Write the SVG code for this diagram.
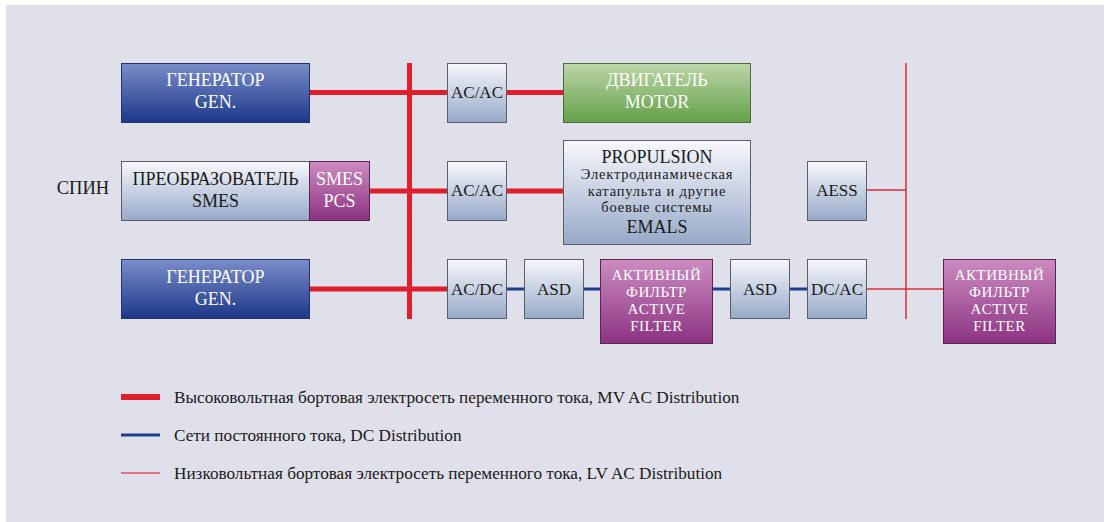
<svg xmlns="http://www.w3.org/2000/svg" width="1104" height="522" viewBox="0 0 1104 522">
<defs>
<linearGradient id="gBlue" x1="0" y1="0" x2="0" y2="1"><stop offset="0" stop-color="#7a8dca"/><stop offset="1" stop-color="#1d3788"/></linearGradient>
<linearGradient id="gLight" x1="0" y1="0" x2="0" y2="1"><stop offset="0" stop-color="#f7f8fc"/><stop offset="1" stop-color="#97a9c8"/></linearGradient>
<linearGradient id="gGreen" x1="0" y1="0" x2="0" y2="1"><stop offset="0" stop-color="#bcd6a8"/><stop offset="1" stop-color="#63a048"/></linearGradient>
<linearGradient id="gPurple" x1="0" y1="0" x2="0" y2="1"><stop offset="0" stop-color="#cc8cc0"/><stop offset="1" stop-color="#8c3282"/></linearGradient>
</defs>
<style>
.bg{fill:#e0e0ea}
.blue{fill:url(#gBlue);stroke:#26336a;stroke-width:1}
.light{fill:url(#gLight);stroke:#5a5e6a;stroke-width:1}
.green{fill:url(#gGreen);stroke:#4c6a40;stroke-width:1}
.purple{fill:url(#gPurple);stroke:#5a2452;stroke-width:1}
text{font-family:"Liberation Serif","Times New Roman",serif;text-anchor:middle}
.w{fill:#ffffff;font-size:18px}
.d{fill:#1a1a1a;font-size:18px}
.c{fill:#1a1a1a;font-size:17px}
.ws{fill:#ffffff;font-size:15px;letter-spacing:0.5px}
.ds{fill:#1a1a1a;font-size:14.5px;letter-spacing:0.8px}
.leg{fill:#1a1a1a;font-size:17.2px;text-anchor:start}
.mv{stroke:#e01f2d;stroke-width:5;fill:none}
.dc{stroke:#1c3f8e;stroke-width:3;fill:none}
.lv{stroke:#e02a3a;stroke-width:1.5;fill:none}
</style>
<rect class="bg" x="6" y="5" width="1098" height="517"/>
<g id="connectors">
<line class="mv" x1="409.5" y1="63" x2="409.5" y2="319"/>
<line class="mv" x1="310" y1="92.5" x2="447" y2="92.5"/>
<line class="mv" x1="507" y1="92.5" x2="563" y2="92.5"/>
<line class="mv" x1="370" y1="191" x2="447" y2="191"/>
<line class="mv" x1="507" y1="191" x2="563" y2="191"/>
<line class="mv" x1="310" y1="289" x2="447" y2="289"/>
<line class="dc" x1="507" y1="289" x2="524" y2="289"/>
<line class="dc" x1="584" y1="289" x2="600" y2="289"/>
<line class="dc" x1="713" y1="289" x2="730" y2="289"/>
<line class="dc" x1="790" y1="289" x2="807" y2="289"/>
<line class="lv" x1="906" y1="63" x2="906" y2="319"/>
<line class="lv" x1="867" y1="190" x2="906" y2="190"/>
<line class="lv" x1="867" y1="289" x2="943" y2="289"/>
</g>
<g id="gen1"><rect class="blue" x="121.5" y="63.5" width="188" height="59"/><text class="w" x="215.5" y="86">ГЕНЕРАТОР</text><text class="w" x="215.5" y="108">GEN.</text></g>
<g id="acac1"><rect class="light" x="447.5" y="63.5" width="59" height="59"/><text class="c" x="477" y="98">AC/AC</text></g>
<g id="motor"><rect class="green" x="563.5" y="63.5" width="187" height="59"/><text class="w" x="657" y="86">ДВИГАТЕЛЬ</text><text class="w" x="657" y="108">MOTOR</text></g>
<g id="spin"><text class="d" x="83" y="194" style="font-size:18.5px">СПИН</text></g>
<g id="smes"><rect class="light" x="121.5" y="161.5" width="188" height="59"/><text class="d" x="215.5" y="185">ПРЕОБРАЗОВАТЕЛЬ</text><text class="d" x="215.5" y="207">SMES</text></g>
<g id="smespcs"><rect class="purple" x="309.5" y="161.5" width="60" height="59"/><text class="w" x="339.5" y="185">SMES</text><text class="w" x="339.5" y="207">PCS</text></g>
<g id="acac2"><rect class="light" x="447.5" y="161.5" width="59" height="59"/><text class="c" x="477" y="196">AC/AC</text></g>
<g id="propulsion"><rect class="light" x="563.5" y="140.5" width="187" height="104"/><text class="d" x="657" y="163">PROPULSION</text><text class="ds" x="657" y="179">Электродинамическая</text><text class="ds" x="657" y="195.5">катапульта и другие</text><text class="ds" x="657" y="211.5">боевые системы</text><text class="d" x="657" y="233">EMALS</text></g>
<g id="aess"><rect class="light" x="807.5" y="161.5" width="59" height="59"/><text class="c" x="837" y="196">AESS</text></g>
<g id="gen2"><rect class="blue" x="121.5" y="259.5" width="188" height="59"/><text class="w" x="215.5" y="283">ГЕНЕРАТОР</text><text class="w" x="215.5" y="305">GEN.</text></g>
<g id="acdc"><rect class="light" x="447.5" y="259.5" width="59" height="59"/><text class="c" x="477" y="295">AC/DC</text></g>
<g id="asd1"><rect class="light" x="524.5" y="259.5" width="59" height="59"/><text class="c" x="554" y="295">ASD</text></g>
<g id="filter1"><rect class="purple" x="600.5" y="259.5" width="112" height="84"/><text class="ws" x="656.5" y="280">АКТИВНЫЙ</text><text class="ws" x="656.5" y="297">ФИЛЬТР</text><text class="ws" x="656.5" y="314">ACTIVE</text><text class="ws" x="656.5" y="331">FILTER</text></g>
<g id="asd2"><rect class="light" x="730.5" y="259.5" width="59" height="59"/><text class="c" x="760" y="295">ASD</text></g>
<g id="dcac"><rect class="light" x="807.5" y="259.5" width="59" height="59"/><text class="c" x="837" y="295">DC/AC</text></g>
<g id="filter2"><rect class="purple" x="943.5" y="259.5" width="112" height="84"/><text class="ws" x="999.5" y="280">АКТИВНЫЙ</text><text class="ws" x="999.5" y="297">ФИЛЬТР</text><text class="ws" x="999.5" y="314">ACTIVE</text><text class="ws" x="999.5" y="331">FILTER</text></g>
<g id="legend">
<line x1="121" y1="397" x2="160" y2="397" stroke="#e01f2d" stroke-width="6"/>
<line x1="121" y1="435" x2="160" y2="435" stroke="#1c3f8e" stroke-width="3"/>
<line x1="121" y1="473" x2="160" y2="473" stroke="#e0505e" stroke-width="1.5"/>
<text class="leg" x="174" y="403">Высоковольтная бортовая электросеть переменного тока, MV AC Distribution</text>
<text class="leg" x="174" y="441">Сети постоянного тока, DC Distribution</text>
<text class="leg" x="174" y="479">Низковольтная бортовая электросеть переменного тока, LV AC Distribution</text>
</g>
</svg>
